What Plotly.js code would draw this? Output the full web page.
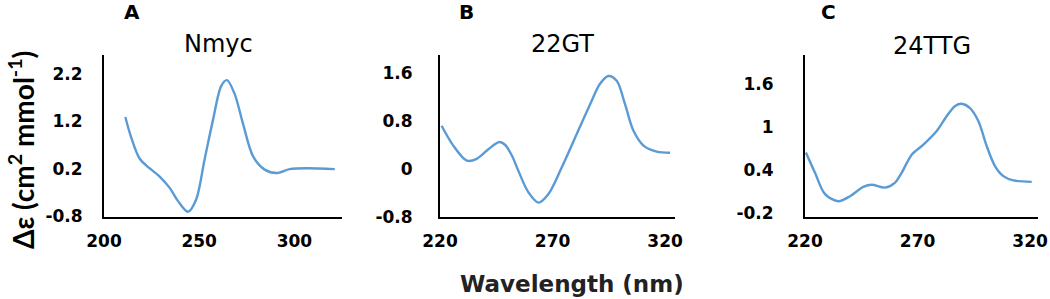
<!DOCTYPE html>
<html>
<head>
<meta charset="utf-8">
<script src="https://cdn.plot.ly/plotly-3.0.1.min.js"></script>
<style>html,body{margin:0;padding:0;background:#fff;}#chart{width:1050px;height:299px;}</style>
</head>
<body>
<div id="chart"></div>
<script>
// Panel A: Nmyc
const wlA = [211.2, 214.2, 218.6, 223.9, 229.1, 234.4, 238.8, 244.1, 248.4, 252.8, 257.2, 261.6, 264.6, 268.6, 273, 278.3, 284.4, 290.5, 297.5, 306.3, 321.2];
const cdA = [1.29, 0.87, 0.42, 0.21, 0.04, -0.20, -0.48, -0.71, -0.45, 0.39, 1.22, 1.95, 2.07, 1.78, 1.15, 0.46, 0.18, 0.11, 0.19, 0.21, 0.19];
// Panel B: 22GT
const wlB = [220.7, 225.9, 231.9, 236.3, 241.5, 246.4, 249, 252, 254.8, 259.3, 263.7, 268.1, 274.1, 280.7, 286.7, 291.1, 294.8, 298.5, 302.2, 305.9, 310.4, 316.3, 322.2];
const cdB = [0.72, 0.39, 0.14, 0.17, 0.33, 0.45, 0.40, 0.22, -0.03, -0.39, -0.56, -0.42, 0.03, 0.58, 1.08, 1.42, 1.55, 1.47, 1.08, 0.64, 0.39, 0.29, 0.27];
// Panel C: 24TTG
const wlC = [220.4, 224.4, 228.9, 234.8, 240, 245.9, 249.6, 255.6, 260, 263, 267.4, 272.6, 278.5, 283, 286.7, 289.6, 293.3, 297, 300.7, 304.4, 308.1, 312.6, 320.7];
const cdC = [0.64, 0.36, 0.06, -0.04, 0.03, 0.16, 0.19, 0.15, 0.22, 0.36, 0.61, 0.75, 0.94, 1.15, 1.29, 1.32, 1.26, 1.08, 0.73, 0.45, 0.31, 0.25, 0.23];

const xTicksA = [200, 250, 300];
const xTicksBC = [220, 270, 320];
const yTicksA = [-0.8, 0.2, 1.2, 2.2];
const yLabelsA = ["-0.8", "0.2", "1.2", "2.2"];
const yTicksB = [-0.8, 0, 0.8, 1.6];
const yLabelsB = ["-0.8", "0", "0.8", "1.6"];
const yTicksC = [-0.2, 0.4, 1, 1.6];
const yLabelsC = ["-0.2", "0.4", "1", "1.6"];

const panelLetters = ["A", "B", "C"];
const panelTitles = ["Nmyc", "22GT", "24TTG"];

const lineStyle = {color: '#5b9bd5', width: 2.4, shape: 'spline', smoothing: 0.9};
const traces = [
  {x: wlA, y: cdA, xaxis: 'x', yaxis: 'y', mode: 'lines', line: lineStyle, hoverinfo: 'skip'},
  {x: wlB, y: cdB, xaxis: 'x2', yaxis: 'y2', mode: 'lines', line: lineStyle, hoverinfo: 'skip'},
  {x: wlC, y: cdC, xaxis: 'x3', yaxis: 'y3', mode: 'lines', line: lineStyle, hoverinfo: 'skip'}
];

const W = 1050, H = 299;
const tickFont = {family: 'DejaVu Sans, Arial, sans-serif', size: 17, color: '#000', weight: 'bold'};
const yDom = [(H - 217) / H, (H - 55) / H];
function xax(dom, range, vals) {
  return {domain: [dom[0] / W, dom[1] / W], range: range, tickvals: vals, ticktext: vals.map(String),
    showline: true, linecolor: '#000', linewidth: 2, showgrid: false, zeroline: false,
    ticks: '', ticklabelstandoff: 8, tickfont: tickFont, fixedrange: true};
}
function yax(range, vals, labels, anchor, standoff) {
  return {domain: yDom, range: range, tickvals: vals, ticktext: labels, anchor: anchor,
    showline: true, linecolor: '#000', linewidth: 2, showgrid: false, zeroline: false,
    ticks: '', ticklabelstandoff: standoff, tickfont: tickFont, fixedrange: true};
}

const letterPos = [[132, 12], [466, 12], [828, 12]];
const titlePos = [[218, 44], [562, 44], [932, 46]];
const annotations = [];
panelLetters.forEach((t, i) => annotations.push({text: t, xref: 'paper', yref: 'paper',
  x: letterPos[i][0] / W, y: 1 - letterPos[i][1] / H, xanchor: 'center', yanchor: 'middle', showarrow: false,
  font: {family: 'DejaVu Sans, Arial, sans-serif', size: 20, color: '#000', weight: 'bold'}}));
panelTitles.forEach((t, i) => annotations.push({text: t, xref: 'paper', yref: 'paper',
  x: titlePos[i][0] / W, y: 1 - titlePos[i][1] / H, xanchor: 'center', yanchor: 'middle', showarrow: false,
  font: {family: 'DejaVu Sans, Arial, sans-serif', size: 24, color: '#000'}}));
annotations.push({text: 'Δε (cm<sup>2</sup> mmol<sup>-1</sup>)', xref: 'paper', yref: 'paper',
  x: 21 / W, y: 1 - 150 / H, xanchor: 'center', yanchor: 'middle', textangle: -90, showarrow: false,
  font: {family: 'Lato, sans-serif', size: 28, color: '#000', weight: 'bold'}});
annotations.push({text: 'Wavelength (nm)', xref: 'paper', yref: 'paper',
  x: 572 / W, y: 1 - 284 / H, xanchor: 'center', yanchor: 'middle', showarrow: false,
  font: {family: 'DejaVu Sans, Arial, sans-serif', size: 23, color: '#222', weight: 'bold'}});

const layout = {
  width: W, height: H, margin: {l: 0, r: 0, t: 0, b: 0}, paper_bgcolor: '#fff', plot_bgcolor: '#fff',
  showlegend: false,
  xaxis: xax([104, 342], [200, 325], xTicksA),
  yaxis: yax([-0.82, 2.6], yTicksA, yLabelsA, 'x', 16),
  xaxis2: xax([440, 675], [220, 324.4], xTicksBC),
  yaxis2: yax([-0.8, 1.9], yTicksB, yLabelsB, 'x2', 22),
  xaxis3: xax([805, 1038], [220, 323.5], xTicksBC),
  yaxis3: yax([-0.26, 2.0], yTicksC, yLabelsC, 'x3', 26),
  annotations: annotations
};
layout.xaxis.anchor = 'y';
layout.xaxis2.anchor = 'y2';
layout.xaxis3.anchor = 'y3';

Plotly.newPlot('chart', traces, layout, {displayModeBar: false, staticPlot: true});
</script>
</body>
</html>
